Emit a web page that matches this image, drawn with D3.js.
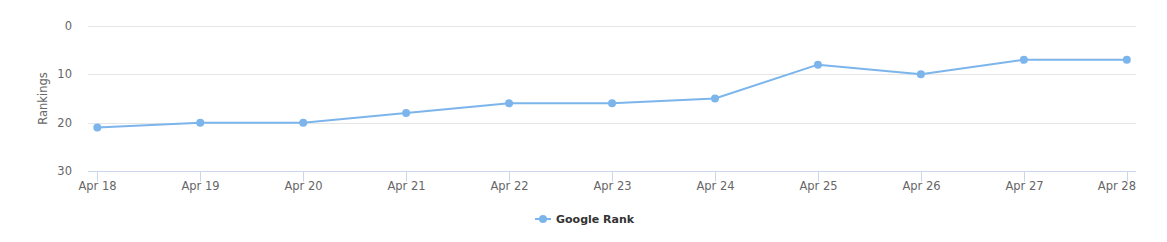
<!DOCTYPE html>
<html>
<head>
<meta charset="utf-8">
<script src="https://cdn.jsdelivr.net/npm/d3@7"></script>
<style>
  body { margin: 0; background: #fff; }
  text { font-family: "DejaVu Sans", sans-serif; }
</style>
</head>
<body>
<div id="chart"></div>
<script>
// chart data
const days = ["Apr 18", "Apr 19", "Apr 20", "Apr 21", "Apr 22", "Apr 23", "Apr 24", "Apr 25", "Apr 26", "Apr 27", "Apr 28"];
const googleRank = [21, 20, 20, 18, 16, 16, 15, 8, 10, 7, 7];
const yTicks = [0, 10, 20, 30];

var w = 1167, h = 242;
var plot = { left: 88, right: 1136, top: 26, bottom: 171 };

var svg = d3.select("#chart")
    .append("svg")
    .attr("width", w)
    .attr("height", h);

var x = d3.scalePoint()
    .domain(days)
    .range([97.3, 1126.8]);

// rankings: 0 at the top
var y = d3.scaleLinear()
    .domain([0, 30])
    .range([plot.top, plot.bottom]);

// grid lines
svg.append("g")
    .selectAll("line")
    .data(yTicks.slice(0, -1))
    .enter()
    .append("line")
    .attr("x1", plot.left)
    .attr("x2", plot.right)
    .attr("y1", d => Math.round(y(d)) + 0.5)
    .attr("y2", d => Math.round(y(d)) + 0.5)
    .attr("stroke", "#e6e6e6");

// y labels
svg.append("g")
    .selectAll("text")
    .data(yTicks)
    .enter()
    .append("text")
    .attr("x", 72)
    .attr("y", d => y(d) + 4)
    .attr("text-anchor", "end")
    .style("font-size", "11.5px")
    .style("fill", "#666")
    .text(d => d);

svg.append("text")
    .attr("transform", "translate(47," + (plot.top + plot.bottom) / 2 + ") rotate(-90)")
    .attr("text-anchor", "middle")
    .style("font-size", "11.5px")
    .style("fill", "#666")
    .text("Rankings");

// x axis
var xAxis = svg.append("g")
    .attr("transform", "translate(0," + (Math.round(plot.bottom) + 0.5) + ")");

xAxis.append("line")
    .attr("x1", plot.left)
    .attr("x2", plot.right)
    .attr("stroke", "#ccd6eb");

var tick = xAxis.selectAll(".tick")
    .data(days)
    .enter()
    .append("g")
    .attr("transform", d => "translate(" + (Math.round(x(d)) + 0.5) + ",0)");

tick.append("line")
    .attr("y2", 10)
    .attr("stroke", "#ccd6eb");

tick.append("text")
    .attr("y", 18.5)
    .attr("text-anchor", "middle")
    .style("font-size", "11.5px")
    .style("fill", "#666")
    .text(d => d)
    .each(function () {
        // keep the last label inside the plot edge
        var b = this.getBBox();
        var pos = this.parentNode.transform.baseVal.consolidate().matrix.e;
        var over = pos + b.x + b.width - plot.right;
        if (over > 0) d3.select(this).attr("x", -over);
    });

// series
var points = days.map((d, i) => [x(d), y(googleRank[i])]);

svg.append("path")
    .attr("d", d3.line()(points))
    .attr("fill", "none")
    .attr("stroke", "#7cb5ec")
    .attr("stroke-width", 2)
    .attr("stroke-linejoin", "round");

svg.append("g")
    .selectAll("circle")
    .data(points)
    .enter()
    .append("circle")
    .attr("cx", d => d[0])
    .attr("cy", d => d[1])
    .attr("r", 4)
    .attr("fill", "#7cb5ec");

// legend
var legend = svg.append("g")
    .attr("transform", "translate(535,219)");

legend.append("line")
    .attr("x1", 0)
    .attr("x2", 16)
    .attr("stroke", "#7cb5ec")
    .attr("stroke-width", 2);

legend.append("circle")
    .attr("cx", 8)
    .attr("r", 4)
    .attr("fill", "#7cb5ec");

legend.append("text")
    .attr("x", 21)
    .attr("y", 4)
    .style("font-size", "11px")
    .style("font-weight", "bold")
    .style("fill", "#333")
    .text("Google Rank");
</script>
</body>
</html>
